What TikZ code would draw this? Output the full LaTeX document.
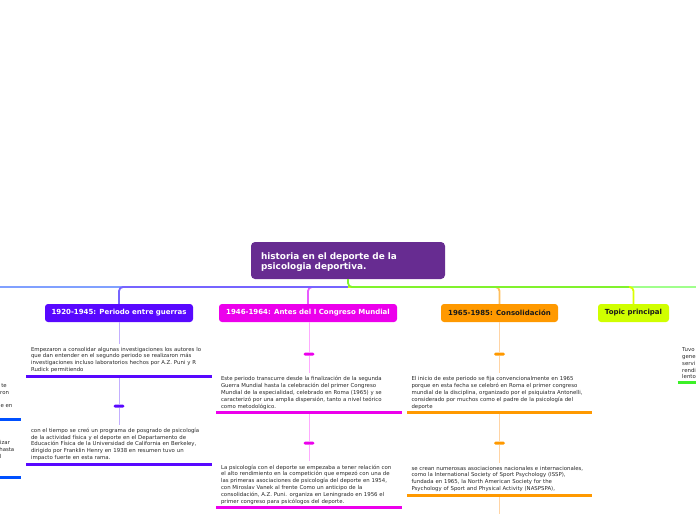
\documentclass[tikz,border=0pt]{standalone}
\usepackage{fontspec}
\setmainfont{DejaVu Sans}
\definecolor{cRoot}{RGB}{103,44,145}
\definecolor{c1920}{RGB}{88,8,255}
\definecolor{c1920conn}{RGB}{118,100,255}
\definecolor{c1920light}{RGB}{195,175,255}
\definecolor{c1946}{RGB}{236,0,236}
\definecolor{c1946conn}{RGB}{232,90,255}
\definecolor{c1946light}{RGB}{255,170,255}
\definecolor{c1965}{RGB}{255,153,0}
\definecolor{c1965conn}{RGB}{255,190,90}
\definecolor{c1965light}{RGB}{255,212,165}
\definecolor{cTopic}{RGB}{208,255,0}
\definecolor{cTopicconn}{RGB}{218,255,0}
\definecolor{cBusL}{RGB}{128,160,255}
\definecolor{cBusR}{RGB}{160,255,140}
\definecolor{cGreen}{RGB}{128,242,45}
\definecolor{cLeftBlue}{RGB}{0,80,255}
\definecolor{cRightGreen}{RGB}{60,240,40}
\definecolor{cText}{RGB}{40,40,40}
\definecolor{cDark}{RGB}{26,26,26}
\begin{document}
\begin{tikzpicture}[x=1pt,y=-1pt,
  rootbox/.style={fill=cRoot, rounded corners=4pt, text=white,
    font=\fontsize{8.9}{10.7}\selectfont\bfseries, minimum width=194pt,
    minimum height=37pt, text width=174pt, text height=9.8pt, align=left,
    inner xsep=10pt, inner ysep=0pt},
  branch/.style={rounded corners=3pt, minimum height=18pt,
    font=\fontsize{7}{8}\selectfont\bfseries, inner sep=0pt},
  subtext/.style={text width=176pt, inner xsep=4.5pt, inner ysep=3.2pt, align=left,
    font=\fontsize{5.4}{6.8}\selectfont, text=cText, anchor=south},
  frag/.style={font=\fontsize{5.4}{6.8}\selectfont, text=cText, inner sep=0pt, anchor=base east},
  ul/.style={line width=3pt},
  dashmark/.style={minimum width=11pt, minimum height=3pt, inner sep=0pt, rounded corners=1.5pt},
  conn/.style={line width=1.8pt, rounded corners=4pt},
  sub/.style={line width=1pt}]
\clip (0,0) rectangle (696,520);

% root and branches
\node[rootbox] (root) at (348,260.5) {historia en el deporte de la\\psicologia deportiva.};
\node[branch, fill=c1920, text=white, minimum width=148pt] (n1920) at (119,313) {1920-1945: Periodo entre guerras};
\node[branch, fill=c1946, text=white, minimum width=178pt] (n1946) at (308,313) {1946-1964: Antes del I Congreso Mundial};
\node[branch, fill=c1965, text=cDark, minimum width=117pt] (n1965) at (499.5,313) {1965-1985: Consolidación};
\node[branch, fill=cTopic, text=cDark, minimum width=71pt] (topic) at (633.5,313) {Topic principal};

\coordinate (bus) at (348,287);
\coordinate (offleft) at (0,287);
\coordinate (offright) at (696,287);
\coordinate (gend) at (629,287);

\draw[conn, cBusL] (bus) -- (offleft);
\draw[conn, c1946conn] (bus) -| (n1946.north);
\draw[conn, c1920conn] (bus) -| (n1920.north);
\draw[conn, cBusR] (bus) -- (offright);
\draw[conn, c1965conn] (bus) -| (n1965.north);
\draw[conn, cTopicconn] (bus) -| (topic.north);
\draw[conn, cGreen] (root.south) -- (bus) -- (gend);

% 1920 branch
\node[subtext] (t1a) at (119,376) {Empezaron a consolidar algunas investigaciones los autores lo\\que dan entender en el segundo periodo se realizaron más\\investigaciones incluso laboratorios hechos por A.Z. Puni y R\\Rudick permitiendo};
\node[dashmark, fill=c1920] (d1) at (119,406) {};
\node[subtext] (t1b) at (119,464) {con el tiempo se creó un programa de posgrado de psicología\\de la actividad física y el deporte en el Departamento de\\Educación Física de la Universidad de California en Berkeley,\\dirigido por Franklin Henry en 1938 en resumen tuvo un\\impacto fuerte en esta rama.};
\draw[sub, c1920light] (n1920.south) -- (t1a.north);
\draw[sub, c1920light] (t1a.south) -- (d1.north);
\draw[sub, c1920light] (d1.south) -- (t1b.north);
\draw[ul, c1920] (t1a.south west) -- (t1a.south east);
\draw[ul, c1920] (t1b.south west) -- (t1b.south east);

% 1946 branch
\node[dashmark, fill=c1946] (d2a) at (309,354) {};
\node[subtext] (t2a) at (309,412.7) {Este periodo transcurre desde la finalización de la segunda\\Guerra Mundial hasta la celebración del primer Congreso\\Mundial de la especialidad, celebrado en Roma (1965) y se\\caracterizó por una amplia dispersión, tanto a nivel teórico\\como metodológico.};
\node[dashmark, fill=c1946] (d2b) at (309,443) {};
\node[subtext] (t2b) at (309,507.7) {La psicología con el deporte se empezaba a tener relación con\\el alto rendimiento en la competición que empezó con una de\\las primeras asociaciones de psicología del deporte en 1954,\\con Miroslav Vanek al frente Como un anticipo de la\\consolidación, A.Z. Puni. organiza en Leningrado en 1956 el\\primer congreso para psicólogos del deporte.};
\draw[sub, c1946light] (n1946.south -| d2a) -- (d2a.north);
\draw[sub, c1946light] (d2a.south) -- (t2a.north);
\draw[sub, c1946light] (t2a.south) -- (d2b.north);
\draw[sub, c1946light] (d2b.south) -- (t2b.north);
\draw[ul, c1946] (t2a.south west) -- (t2a.south east);
\draw[ul, c1946] (t2b.south west) -- (t2b.south east);

% 1965 branch
\node[dashmark, fill=c1965] (d3a) at (499.5,354) {};
\node[subtext] (t3a) at (499.5,412.7) {El inicio de este periodo se fija convencionalmente en 1965\\porque en esta fecha se celebró en Roma el primer congreso\\mundial de la disciplina, organizado por el psiquiatra Antonelli,\\considerado por muchos como el padre de la psicología del\\deporte};
\node[dashmark, fill=c1965] (d3b) at (499.5,443) {};
\node[subtext] (t3b) at (499.5,495) {se crean numerosas asociaciones nacionales e internacionales,\\como la International Society of Sport Psychology (ISSP),\\fundada en 1965, la North American Society for the\\Psychology of Sport and Physical Activity (NASPSPA),};
\coordinate (n3next) at (499.5,514);
\draw[sub, c1965light] (n1965.south) -- (d3a.north);
\draw[sub, c1965light] (d3a.south) -- (t3a.north);
\draw[sub, c1965light] (t3a.south) -- (d3b.north);
\draw[sub, c1965light] (d3b.south) -- (t3b.north);
\draw[sub, c1965light] (t3b.south) -- (n3next);
\draw[ul, c1965] (t3a.south west) -- (t3a.south east);
\draw[ul, c1965] (t3b.south west) -- (t3b.south east);

% right partial branch
\node[subtext, anchor=south west] (rp) at (677.5,382.3) {Tuvo\\gene\\servi\\rendi\\lento};
\draw[ul, cRightGreen] (rp.south west) -- (rp.south east);

% left partial branches
\node[frag] (lp1) at (6.9,387.2) {te};
\node[frag] (lp2) at (9.2,394.0) {ron};
\node[frag] (lp3) at (12.5,407.4) {e en};
\coordinate (lu1a) at (0,419);
\coordinate (lu1b) at (20.7,419);
\draw[ul, cLeftBlue] (lu1a) -- (lu1b);
\node[frag] (lp4) at (10.2,444.8) {izar};
\node[frag] (lp5) at (14.5,451.6) {hasta};
\node[frag] (lp6) at (1.6,458.4) {l};
\coordinate (lu2a) at (0,477);
\coordinate (lu2b) at (20.7,477);
\draw[ul, cLeftBlue] (lu2a) -- (lu2b);
\end{tikzpicture}
\end{document}
